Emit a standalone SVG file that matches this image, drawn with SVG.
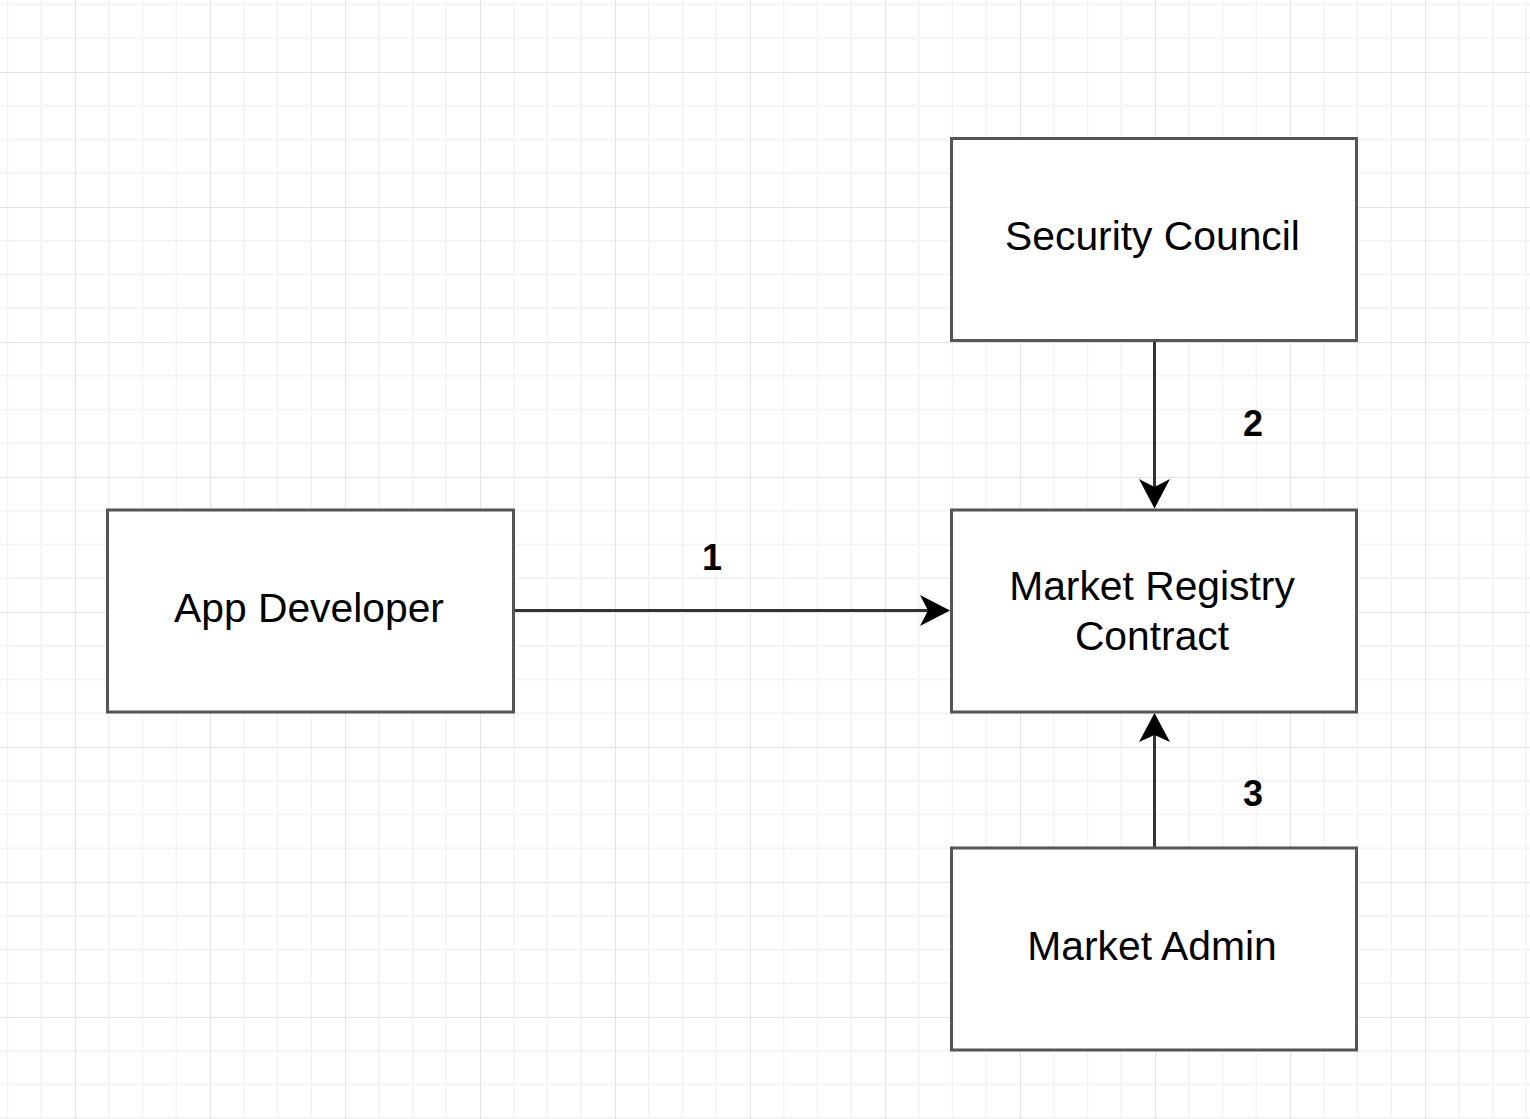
<svg xmlns="http://www.w3.org/2000/svg" width="1530" height="1119" viewBox="0 0 1530 1119">
  <defs>
    <pattern id="grid" patternUnits="userSpaceOnUse" x="75" y="72" width="135" height="135">
      <path d="M33.75 0V135M67.5 0V135M101.25 0V135M0 33.75H135M0 67.5H135M0 101.25H135" stroke="#f2f2f2" stroke-width="1.5" fill="none"/>
      <path d="M0 0V135M0 0H135" stroke="#e3e3e3" stroke-width="2" fill="none"/>
    </pattern>
    <style>
      .box { fill: #ffffff; stroke: #555555; stroke-width: 3; }
      .lbl { font-family: "Liberation Sans", Arial, sans-serif; font-size: 40.8px; fill: #000000; text-anchor: middle; }
      .num { font-family: "Liberation Sans", Arial, sans-serif; font-size: 36px; font-weight: bold; fill: #000000; text-anchor: middle; }
      .edge { stroke: #333333; stroke-width: 3; fill: none; }
      .head { fill: #000000; stroke: none; }
    </style>
  </defs>
  <rect x="0" y="0" width="1530" height="1119" fill="#ffffff"/>
  <rect x="0" y="0" width="1530" height="1119" fill="url(#grid)"/>

  <g id="connectors">
    <g id="edge1">
      <path class="edge" d="M513 610.5H928"/>
      <path class="head" d="M950 610.5L920 595L928 610.5L920 626Z"/>
      <text class="num" x="712" y="570">1</text>
    </g>
    <g id="edge2">
      <path class="edge" d="M1154.5 341V487"/>
      <path class="head" d="M1154.5 508.5L1139 479L1154.5 487L1170 479Z"/>
      <text class="num" x="1253" y="436">2</text>
    </g>
    <g id="edge3">
      <path class="edge" d="M1154.5 848V735"/>
      <path class="head" d="M1154.5 713L1139 742L1154.5 735L1170 742Z"/>
      <text class="num" x="1253" y="806">3</text>
    </g>
  </g>

  <g id="security-council">
    <rect class="box" x="951.5" y="138.5" width="405" height="202"/>
    <text class="lbl" x="1152.5" y="250">Security Council</text>
  </g>
  <g id="app-developer">
    <rect class="box" x="107.5" y="510" width="406" height="202"/>
    <text class="lbl" x="309" y="622">App Developer</text>
  </g>
  <g id="market-registry-contract">
    <rect class="box" x="951.5" y="510" width="405" height="202"/>
    <text class="lbl" x="1152" y="599.5">Market Registry</text>
    <text class="lbl" x="1152" y="649.5">Contract</text>
  </g>
  <g id="market-admin">
    <rect class="box" x="951.5" y="848" width="405" height="202"/>
    <text class="lbl" x="1152" y="959.5">Market Admin</text>
  </g>
</svg>
